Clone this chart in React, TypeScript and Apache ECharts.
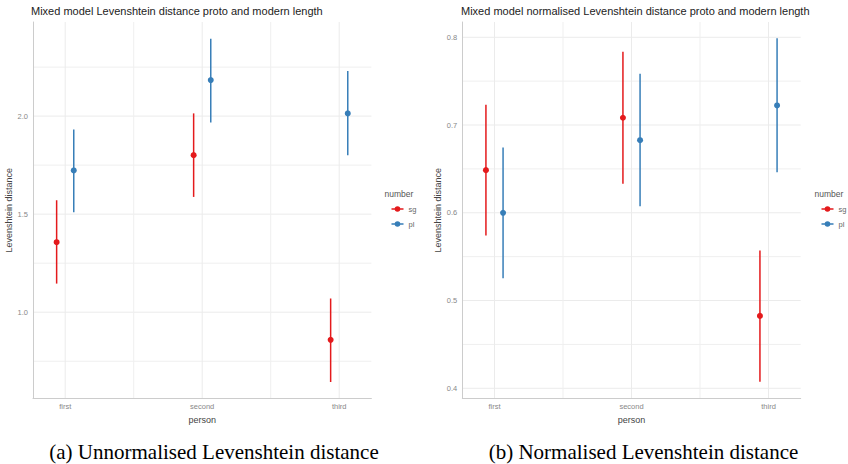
import React, { useEffect, useRef } from "react";
import * as echarts from "echarts";

// ---- data ----
const persons = ["first", "second", "third"];
const numbers = ["sg", "pl"];

// (a) unnormalised Levenshtein distance
const rawSgMean = [1.357, 1.801, 0.859];
const rawSgLow = [1.146, 1.588, 0.644];
const rawSgHigh = [1.571, 2.014, 1.07];
const rawPlMean = [1.723, 2.184, 2.014];
const rawPlLow = [1.51, 1.968, 1.801];
const rawPlHigh = [1.932, 2.394, 2.23];

// (b) normalised Levenshtein distance
const normSgMean = [0.6486, 0.7083, 0.4825];
const normSgLow = [0.574, 0.633, 0.4075];
const normSgHigh = [0.7231, 0.7836, 0.557];
const normPlMean = [0.6, 0.6827, 0.7223];
const normPlLow = [0.5255, 0.6075, 0.6463];
const normPlHigh = [0.6744, 0.7585, 0.7989];

// tick labels / grid positions
const rawYMajor = [1.0, 1.5, 2.0];
const rawYMinor = [0.75, 1.25, 1.75, 2.25];
const normYMajor = [0.4, 0.5, 0.6, 0.7, 0.8];
const normYMinor = [0.45, 0.55, 0.65, 0.75];
const xMajor = [1, 2, 3];
const xMinor = [1.5, 2.5];

const COLORS: Record<string, string> = { sg: "#E41A1C", pl: "#377EB8" };
const DODGE = 0.0625;
const SANS = "'Liberation Sans', Arial, Helvetica, sans-serif";
const SERIF = "'Liberation Serif', 'Times New Roman', serif";

function gridLineSeries(idx: number, values: number[], dir: "h" | "v", color: string, width: number) {
  return {
    type: "custom",
    xAxisIndex: idx,
    yAxisIndex: idx,
    silent: true,
    z: 0,
    data: values.map((v) => [v]),
    renderItem: (params: any, api: any) => {
      const cs = params.coordSys;
      const v = api.value(0);
      if (dir === "h") {
        const y = api.coord([2, v])[1];
        return {
          type: "line",
          shape: { x1: cs.x, y1: y, x2: cs.x + cs.width, y2: y },
          style: { stroke: color, lineWidth: width },
        };
      }
      const x = api.coord([v, 1])[0];
      return {
        type: "line",
        shape: { x1: x, y1: cs.y, x2: x, y2: cs.y + cs.height },
        style: { stroke: color, lineWidth: width },
      };
    },
  };
}

function errorSeries(idx: number, name: string, off: number, low: number[], high: number[]) {
  return {
    type: "custom",
    name,
    xAxisIndex: idx,
    yAxisIndex: idx,
    z: 2,
    itemStyle: { color: COLORS[name] },
    encode: { x: 0, y: [1, 2] },
    data: persons.map((_, i) => [i + 1 + off, low[i], high[i]]),
    renderItem: (params: any, api: any) => {
      const p1 = api.coord([api.value(0), api.value(1)]);
      const p2 = api.coord([api.value(0), api.value(2)]);
      return {
        type: "line",
        shape: { x1: p1[0], y1: p1[1], x2: p2[0], y2: p2[1] },
        style: { stroke: COLORS[name], lineWidth: 1.5 },
      };
    },
  };
}

function pointSeries(idx: number, name: string, off: number, mean: number[]) {
  return {
    type: "scatter",
    name,
    xAxisIndex: idx,
    yAxisIndex: idx,
    z: 3,
    symbol: "circle",
    symbolSize: 6,
    itemStyle: { color: COLORS[name], opacity: 1 },
    data: persons.map((_, i) => [i + 1 + off, mean[i]]),
  };
}

const LEGEND_ICON =
  "path://M0,2.2L12,2.2L12,3.8L0,3.8Z M3.2,3A2.8,2.8 0 1 1 8.8,3A2.8,2.8 0 1 1 3.2,3Z";

function legendAt(left: number) {
  return {
    orient: "vertical",
    left,
    top: 199,
    itemWidth: 12,
    itemHeight: 5.6,
    itemGap: 5,
    icon: LEGEND_ICON,
    selectedMode: false,
    data: numbers,
    textStyle: { fontFamily: SANS, fontSize: 7.5, color: "#666", lineHeight: 10, padding: [0, 0, 0, 0] },
  };
}

function xAxisFor(idx: number) {
  return {
    type: "value",
    gridIndex: idx,
    min: 0.765,
    max: 3.235,
    splitLine: { show: false },
    axisTick: { show: false },
    axisLine: { show: true, onZero: false, lineStyle: { color: "#cccccc", width: 1 } },
    axisLabel: {
      customValues: xMajor,
      formatter: (v: number) => persons[Math.round(v) - 1] ?? "",
      fontFamily: SANS,
      fontSize: 7.5,
      color: "#888",
      margin: 4,
    },
    name: "person",
    nameLocation: "middle",
    nameGap: 10,
    nameTextStyle: { fontFamily: SANS, fontSize: 9, color: "#444" },
  };
}

function yAxisFor(idx: number, min: number, max: number, major: number[]) {
  return {
    type: "value",
    gridIndex: idx,
    min,
    max,
    splitLine: { show: false },
    axisTick: { show: false },
    axisLine: { show: true, onZero: false, lineStyle: { color: "#cccccc", width: 1 } },
    axisLabel: {
      customValues: major,
      formatter: (v: number) => v.toFixed(1),
      fontFamily: SANS,
      fontSize: 7.5,
      color: "#888",
      margin: 5,
    },
    name: "Levenshtein distance",
    nameLocation: "middle",
    nameRotate: 90,
    nameGap: 17,
    nameTextStyle: { fontFamily: SANS, fontSize: 9, color: "#444" },
  };
}

export default function App() {
  const ref = useRef<HTMLDivElement>(null);
  useEffect(() => {
    document.body.style.margin = "0";
    if (!ref.current) return;
    const chart = echarts.init(ref.current, undefined, { renderer: "svg" });
    const option: any = {
      animation: false,
      backgroundColor: "#ffffff",
      title: [
        {
          text: "Mixed model Levenshtein distance proto and modern length",
          left: 31,
          top: 5,
          padding: 0,
          textStyle: { fontFamily: SANS, fontSize: 11, fontWeight: "normal", color: "#222" },
        },
        {
          text: "Mixed model normalised Levenshtein distance proto and modern length",
          left: 461,
          top: 5,
          padding: 0,
          textStyle: { fontFamily: SANS, fontSize: 11, fontWeight: "normal", color: "#222" },
        },
        {
          text: "number",
          left: 384.5,
          top: 189,
          padding: 0,
          textStyle: { fontFamily: SANS, fontSize: 8.5, fontWeight: "normal", color: "#555" },
        },
        {
          text: "number",
          left: 814.5,
          top: 189,
          padding: 0,
          textStyle: { fontFamily: SANS, fontSize: 8.5, fontWeight: "normal", color: "#555" },
        },
        {
          text: "(a) Unnormalised Levenshtein distance",
          left: 214,
          textAlign: "center",
          top: 441,
          padding: 0,
          textStyle: { fontFamily: SERIF, fontSize: 21, fontWeight: "normal", color: "#000" },
        },
        {
          text: "(b) Normalised Levenshtein distance",
          left: 643.5,
          textAlign: "center",
          top: 441,
          padding: 0,
          textStyle: { fontFamily: SERIF, fontSize: 21, fontWeight: "normal", color: "#000" },
        },
      ],
      legend: [legendAt(386.5), legendAt(816.5)],
      grid: [
        { left: 33, top: 22, width: 338.4, height: 376.3 },
        { left: 462.3, top: 22, width: 338.4, height: 376.3 },
      ],
      xAxis: [xAxisFor(0), xAxisFor(1)],
      yAxis: [
        yAxisFor(0, 0.561, 2.48, rawYMajor),
        yAxisFor(1, 0.3886, 0.8174, normYMajor),
      ],
      series: [
        gridLineSeries(0, rawYMinor, "h", "#efefef", 1),
        gridLineSeries(0, rawYMajor, "h", "#ebebeb", 1),
        gridLineSeries(0, xMinor, "v", "#efefef", 1),
        gridLineSeries(0, xMajor, "v", "#ebebeb", 1),
        gridLineSeries(1, normYMinor, "h", "#efefef", 1),
        gridLineSeries(1, normYMajor, "h", "#ebebeb", 1),
        gridLineSeries(1, xMinor, "v", "#efefef", 1),
        gridLineSeries(1, xMajor, "v", "#ebebeb", 1),
        errorSeries(0, "sg", -DODGE, rawSgLow, rawSgHigh),
        errorSeries(0, "pl", DODGE, rawPlLow, rawPlHigh),
        pointSeries(0, "sg", -DODGE, rawSgMean),
        pointSeries(0, "pl", DODGE, rawPlMean),
        errorSeries(1, "sg", -DODGE, normSgLow, normSgHigh),
        errorSeries(1, "pl", DODGE, normPlLow, normPlHigh),
        pointSeries(1, "sg", -DODGE, normSgMean),
        pointSeries(1, "pl", DODGE, normPlMean),
      ],
    };
    chart.setOption(option);
    return () => chart.dispose();
  }, []);
  return <div ref={ref} style={{ width: 848, height: 464 }} />;
}
